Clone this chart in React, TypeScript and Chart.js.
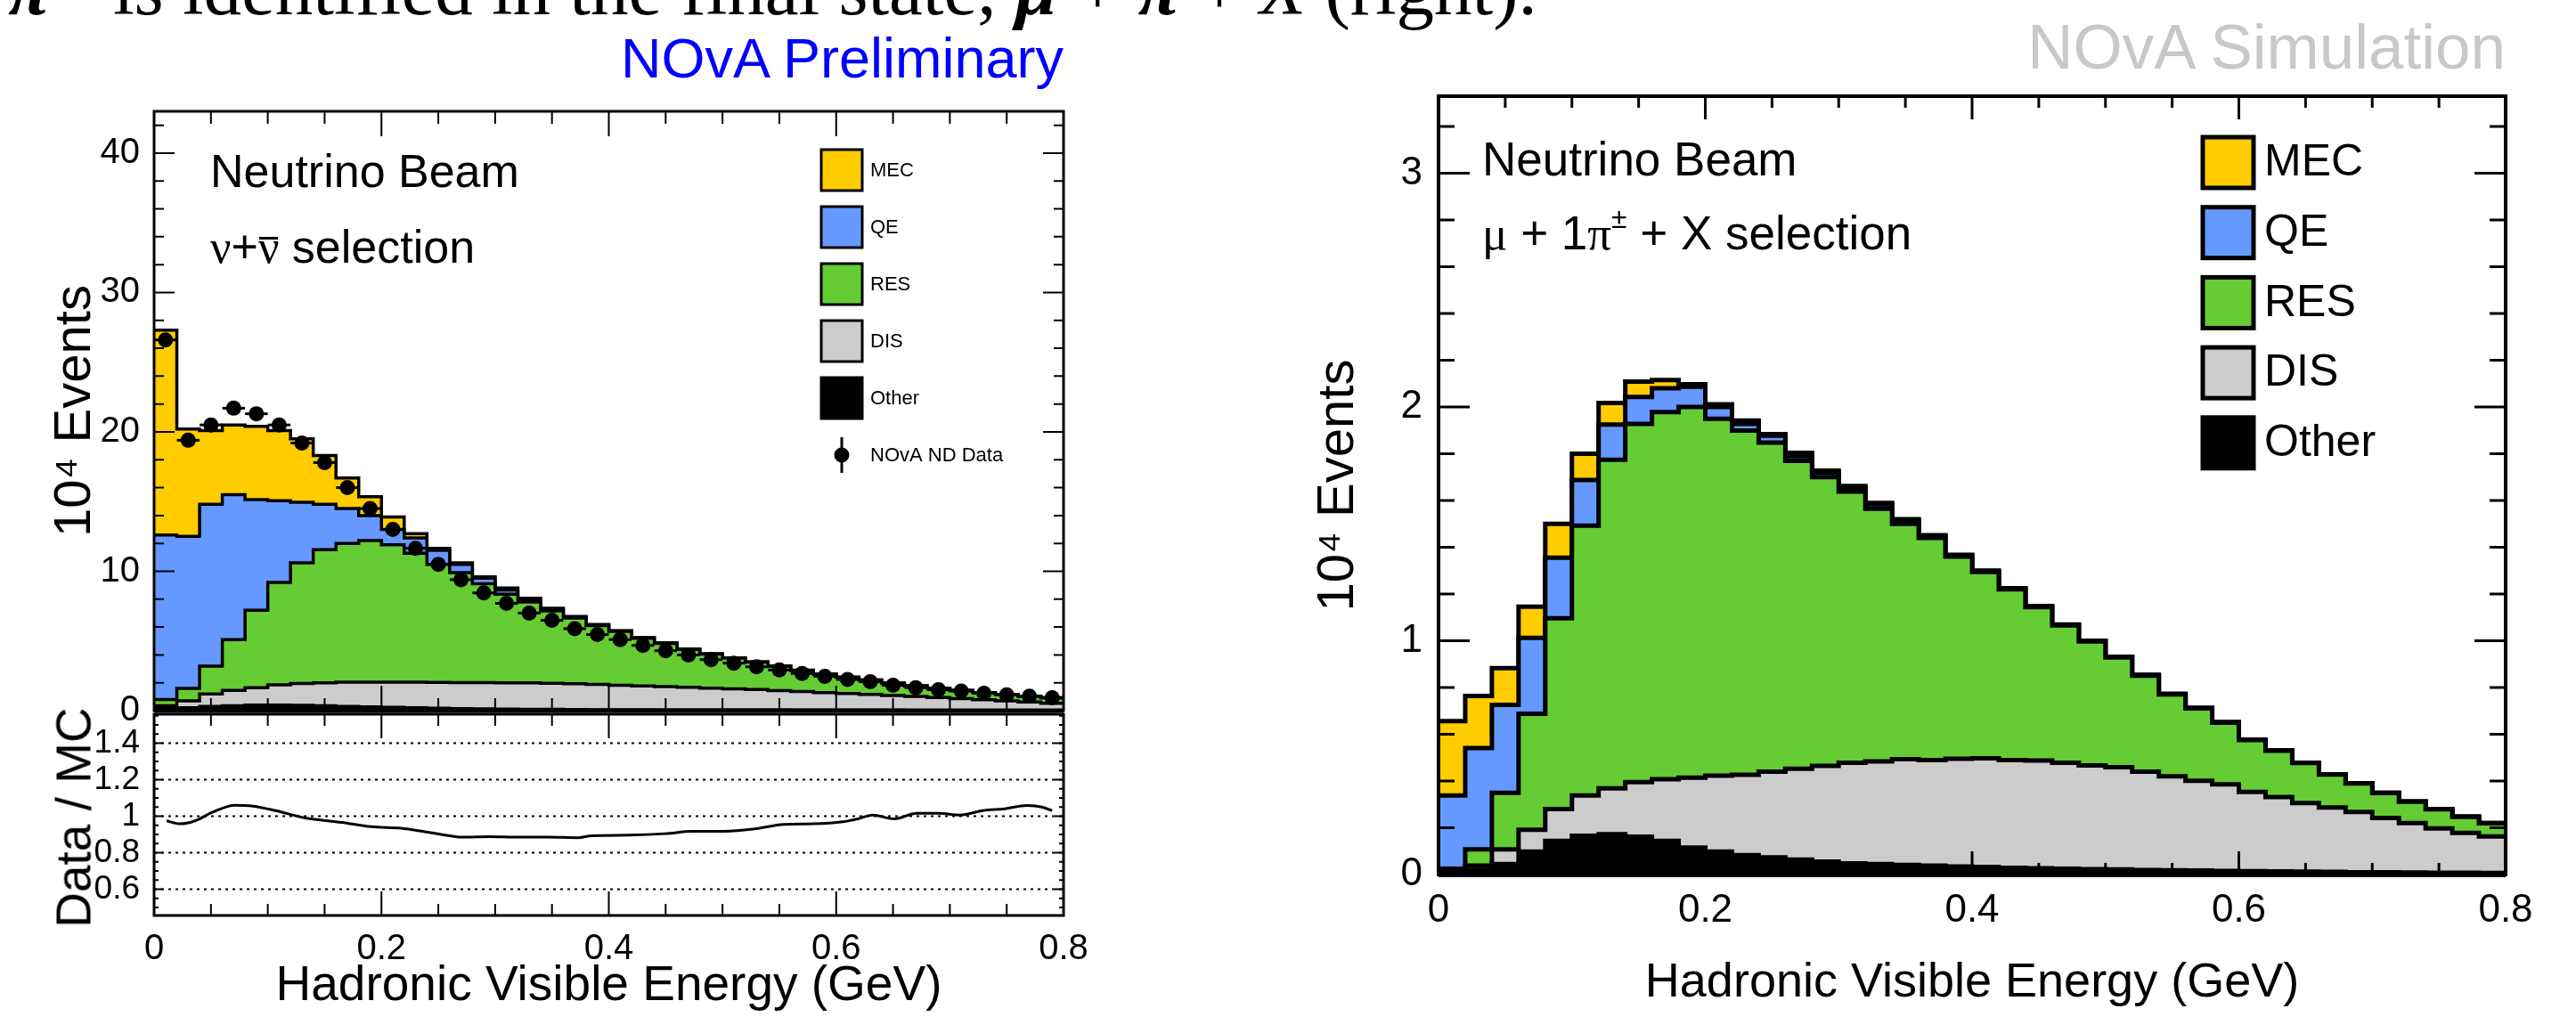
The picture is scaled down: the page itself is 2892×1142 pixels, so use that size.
import React, { useEffect, useRef } from "react";
import { Chart, registerables } from "chart.js";

Chart.register(...registerables);

const SANS = "'Liberation Sans', Arial, Helvetica, sans-serif";
const SERIF = "'Liberation Serif', 'Times New Roman', serif";
Chart.defaults.font.family = SANS;
Chart.defaults.color = "#000";

// ---------- shared binning (low edges of 0.02 GeV bins) ----------
const binLowEdges = [0, 0.02, 0.04, 0.06, 0.08, 0.1, 0.12, 0.14, 0.16, 0.18, 0.2, 0.22, 0.24, 0.26, 0.28, 0.3, 0.32, 0.34, 0.36, 0.38, 0.4, 0.42, 0.44, 0.46, 0.48, 0.5, 0.52, 0.54, 0.56, 0.58, 0.6, 0.62, 0.64, 0.66, 0.68, 0.7, 0.72, 0.74, 0.76, 0.78];
const binUpperEdge = 0.8;
const binWidth = 0.02;

const componentLabels = ["MEC", "QE", "RES", "DIS", "Other"];
const componentColors = { MEC: "#ffcc00", QE: "#6699ff", RES: "#66cc33", DIS: "#cccccc", Other: "#000000" };
const dataLabel = "NOvA ND Data";

// ---------- left panel: nu + nubar selection (10^4 events) ----------
const leftOther = [0.15, 0.2, 0.3, 0.35, 0.4, 0.4, 0.38, 0.35, 0.3, 0.27, 0.24, 0.2, 0.17, 0.15, 0.13, 0.11, 0.1, 0.09, 0.08, 0.07, 0.06, 0.06, 0.05, 0.05, 0.05, 0.04, 0.04, 0.04, 0.03, 0.03, 0.03, 0.03, 0.03, 0.02, 0.02, 0.02, 0.02, 0.02, 0.02, 0.02];
const leftDIS = [0.2, 0.5, 0.9, 1.1, 1.25, 1.45, 1.57, 1.65, 1.75, 1.78, 1.81, 1.85, 1.86, 1.87, 1.89, 1.89, 1.9, 1.88, 1.85, 1.81, 1.76, 1.71, 1.67, 1.62, 1.57, 1.53, 1.47, 1.4, 1.34, 1.27, 1.2, 1.13, 1.06, 1.0, 0.93, 0.85, 0.77, 0.69, 0.6, 0.51];
const leftRES = [0.45, 0.9, 2.0, 3.65, 5.55, 7.35, 8.65, 9.55, 9.95, 10.15, 9.85, 9.25, 8.47, 7.88, 7.08, 6.36, 5.8, 5.18, 4.72, 4.22, 3.86, 3.42, 3.11, 2.73, 2.44, 2.2, 1.97, 1.74, 1.51, 1.31, 1.16, 1.03, 0.88, 0.75, 0.64, 0.57, 0.5, 0.44, 0.4, 0.38];
const leftQE = [11.8, 10.9, 11.6, 10.4, 7.95, 5.86, 4.35, 3.25, 2.5, 1.8, 1.1, 1.1, 1.0, 0.6, 0.4, 0.29, 0.15, 0.1, 0.07, 0.05, 0.04, 0.03, 0.02, 0.02, 0.01, 0.01, 0.01, 0.01, 0.01, 0.01, 0.01, 0.01, 0.01, 0.01, 0.01, 0.01, 0.01, 0.01, 0.01, 0.01];
const leftMEC = [14.7, 7.7, 5.3, 5.0, 5.25, 5.04, 4.55, 3.5, 2.2, 1.35, 0.9, 0.3, 0.15, 0.1, 0.1, 0.15, 0.12, 0.09, 0.04, 0.03, 0.02, 0.02, 0.01, 0.01, 0.01, 0.01, 0.01, 0.01, 0.01, 0, 0, 0, 0, 0, 0, 0, 0, 0, 0, 0];
const leftData = [26.6, 19.4, 20.5, 21.7, 21.3, 20.5, 19.2, 17.8, 16.0, 14.5, 13.0, 11.65, 10.5, 9.4, 8.45, 7.7, 7.0, 6.48, 5.88, 5.46, 5.1, 4.68, 4.3, 4.0, 3.66, 3.41, 3.15, 2.92, 2.67, 2.46, 2.24, 2.07, 1.82, 1.65, 1.5, 1.4, 1.25, 1.14, 1.04, 0.93];

// Data / MC ratio curve
const ratioX = [0.011, 0.023, 0.036, 0.052, 0.071, 0.087, 0.107, 0.133, 0.165, 0.191, 0.217, 0.243, 0.272, 0.295, 0.321, 0.347, 0.373, 0.385, 0.418, 0.45, 0.473, 0.502, 0.528, 0.554, 0.58, 0.606, 0.619, 0.632, 0.651, 0.671, 0.69, 0.709, 0.729, 0.748, 0.768, 0.781, 0.79];
const ratioY = [0.974, 0.958, 0.974, 1.023, 1.06, 1.055, 1.03, 0.99, 0.966, 0.942, 0.934, 0.91, 0.885, 0.888, 0.885, 0.885, 0.882, 0.893, 0.896, 0.904, 0.917, 0.917, 0.93, 0.955, 0.958, 0.969, 0.985, 1.006, 0.985, 1.015, 1.015, 1.006, 1.03, 1.04, 1.058, 1.05, 1.03];

// ---------- right panel: mu + 1pi + X selection (10^4 events) ----------
const rightOther = [0.02, 0.02, 0.045, 0.098, 0.144, 0.166, 0.172, 0.162, 0.144, 0.115, 0.098, 0.083, 0.073, 0.064, 0.055, 0.048, 0.045, 0.041, 0.038, 0.034, 0.032, 0.029, 0.027, 0.025, 0.023, 0.022, 0.019, 0.018, 0.017, 0.015, 0.014, 0.013, 0.012, 0.011, 0.01, 0.01, 0.009, 0.008, 0.008, 0.007];
const rightDIS = [0.002, 0.018, 0.063, 0.093, 0.136, 0.172, 0.197, 0.233, 0.264, 0.299, 0.325, 0.344, 0.367, 0.388, 0.41, 0.43, 0.439, 0.452, 0.452, 0.461, 0.465, 0.461, 0.461, 0.453, 0.444, 0.437, 0.421, 0.402, 0.384, 0.371, 0.339, 0.318, 0.294, 0.276, 0.258, 0.232, 0.211, 0.189, 0.17, 0.156];
const rightRES = [0.003, 0.07, 0.242, 0.497, 0.816, 1.155, 1.406, 1.533, 1.57, 1.586, 1.527, 1.472, 1.408, 1.318, 1.235, 1.16, 1.081, 1.007, 0.95, 0.865, 0.797, 0.73, 0.656, 0.588, 0.53, 0.47, 0.411, 0.351, 0.31, 0.264, 0.222, 0.199, 0.171, 0.141, 0.122, 0.107, 0.091, 0.082, 0.069, 0.056];
const rightQE = [0.313, 0.433, 0.376, 0.325, 0.259, 0.195, 0.15, 0.115, 0.102, 0.087, 0.05, 0.029, 0.029, 0.02, 0.02, 0.017, 0.019, 0.015, 0.008, 0.005, 0.004, 0.003, 0.003, 0.003, 0.002, 0.002, 0.002, 0.001, 0.001, 0.001, 0.001, 0.001, 0.001, 0.001, 0.001, 0.001, 0.001, 0.001, 0.001, 0.001];
const rightMEC = [0.318, 0.223, 0.157, 0.133, 0.145, 0.112, 0.092, 0.066, 0.036, 0.01, 0.012, 0.014, 0.007, 0.014, 0.008, 0.007, 0.006, 0.005, 0.004, 0.003, 0.002, 0.002, 0.002, 0.001, 0.001, 0.001, 0.001, 0.001, 0.001, 0.001, 0, 0, 0, 0, 0, 0, 0, 0, 0, 0];

// ---------- helpers ----------
const fmt = (v: any) => String(Math.round(Number(v) * 1000) / 1000);

function buildStack(comps: { label: string; values: number[] }[], lineWidth: number, firstOrder: number) {
  // comps given bottom -> top; like ROOT's THStack each cumulative histogram is filled from 0,
  // the top-most (largest) one is drawn first and lower ones are painted over it.
  const cum = binLowEdges.map(() => 0);
  return comps.map((c, k) => {
    c.values.forEach((v, i) => (cum[i] += v));
    const pts = binLowEdges.map((x, i) => ({ x, y: cum[i] }));
    pts.push({ x: binUpperEdge, y: cum[cum.length - 1] });
    return {
      type: "line",
      label: c.label,
      data: pts,
      stepped: true,
      fill: "origin",
      backgroundColor: (componentColors as any)[c.label],
      borderColor: "#000",
      borderWidth: lineWidth,
      borderJoinStyle: "miter",
      pointRadius: 0,
      order: firstOrder + k,
    };
  });
}

const rootFrame = {
  id: "rootFrame",
  beforeDatasetsDraw(chart: any, _a: any, o: any) {
    if (!o || !o.dotted) return;
    const { ctx, chartArea: a } = chart;
    const ys = chart.scales.y;
    ctx.save();
    ctx.setLineDash([3, 5]);
    ctx.lineWidth = 2;
    ctx.strokeStyle = "#000";
    ys.ticks.forEach((t: any) => {
      const p = ys.getPixelForValue(t.value);
      ctx.beginPath();
      ctx.moveTo(a.left, p);
      ctx.lineTo(a.right, p);
      ctx.stroke();
    });
    ctx.restore();
  },
  afterDatasetsDraw(chart: any, _a: any, o: any) {
    if (!o || !o.frameWidth) return;
    const { ctx, chartArea: a } = chart;
    const xs = chart.scales.x;
    const ys = chart.scales.y;
    const isMajor = (v: number, step: number) => Math.abs(v / step - Math.round(v / step)) < 1e-6;
    ctx.save();
    ctx.strokeStyle = "#000";
    ctx.lineWidth = o.tickWidth;
    ctx.beginPath();
    for (let k = 1; ; k++) {
      const v = xs.min + k * o.xMinor;
      if (v >= xs.max - 1e-9) break;
      const len = isMajor(v, o.xMajor) ? o.xMajorLen : o.xMinorLen;
      const p = xs.getPixelForValue(v);
      ctx.moveTo(p, a.bottom);
      ctx.lineTo(p, a.bottom - len);
      ctx.moveTo(p, a.top);
      ctx.lineTo(p, a.top + len);
    }
    const y0 = Math.ceil(ys.min / o.yMinor - 1e-9) * o.yMinor;
    for (let k = 0; ; k++) {
      const v = y0 + k * o.yMinor;
      if (v >= ys.max - 1e-9) break;
      if (v <= ys.min + 1e-9) continue;
      const len = isMajor(v, o.yMajor) ? o.yMajorLen : o.yMinorLen;
      const p = ys.getPixelForValue(v);
      ctx.moveTo(a.left, p);
      ctx.lineTo(a.left + len, p);
      ctx.moveTo(a.right, p);
      ctx.lineTo(a.right - len, p);
    }
    ctx.stroke();
    ctx.lineWidth = o.frameWidth;
    ctx.strokeRect(a.left, a.top, a.right - a.left, a.bottom - a.top);
    if (o.baseWidth) {
      ctx.lineWidth = o.baseWidth;
      ctx.beginPath();
      ctx.moveTo(a.left, a.bottom);
      ctx.lineTo(a.right, a.bottom);
      ctx.stroke();
    }
    ctx.restore();
  },
};

const rootLegend = {
  id: "rootLegend",
  afterDraw(chart: any, _a: any, o: any) {
    if (!o || !o.entries) return;
    const ctx = chart.ctx;
    ctx.save();
    ctx.font = `${o.fontSize}px ${SANS}`;
    ctx.textBaseline = "middle";
    const n = o.entries.length;
    for (let k = 0; k < n; k++) {
      const label = o.entries[k];
      const ds = chart.data.datasets.find((d: any) => d.label === label);
      if (!ds) continue;
      const y = o.top + k * o.step;
      ctx.fillStyle = ds.backgroundColor;
      ctx.fillRect(o.left, y, o.size, o.size);
      ctx.lineWidth = o.boxLine;
      ctx.strokeStyle = "#000";
      ctx.strokeRect(o.left, y, o.size, o.size);
      ctx.fillStyle = "#000";
      ctx.fillText(label, o.textX, y + o.size / 2 + 1);
    }
    if (o.dataEntry) {
      const ds = chart.data.datasets.find((d: any) => d.label === o.dataEntry);
      if (ds) {
        const cx = o.left + o.size / 2;
        const cy = o.top + n * o.step + o.size / 2;
        ctx.strokeStyle = "#000";
        ctx.lineWidth = 3;
        ctx.beginPath();
        ctx.moveTo(cx, cy - 20);
        ctx.lineTo(cx, cy + 20);
        ctx.stroke();
        ctx.fillStyle = "#000";
        ctx.beginPath();
        ctx.arc(cx, cy, ds.pointRadius, 0, Math.PI * 2);
        ctx.fill();
        ctx.fillText(ds.label, o.textX, cy + 1);
      }
    }
    ctx.restore();
  },
};

// ---------- chart configs ----------
function leftTopConfig() {
  const stack = buildStack(
    [
      { label: "Other", values: leftOther },
      { label: "DIS", values: leftDIS },
      { label: "RES", values: leftRES },
      { label: "QE", values: leftQE },
      { label: "MEC", values: leftMEC },
    ],
    3.5,
    2
  );
  const pts = binLowEdges.map((e, i) => ({ x: e + binWidth / 2, y: leftData[i] }));
  return {
    type: "line",
    data: {
      datasets: [
        { label: dataLabel, data: pts, showLine: false, pointRadius: 8.5, pointBackgroundColor: "#000", pointBorderColor: "#000", pointBorderWidth: 0, order: 0 },
        { label: "", data: pts, showLine: false, pointStyle: "line", pointRadius: 12.7, pointBorderColor: "#000", pointBorderWidth: 3, order: 1 },
        ...stack,
      ],
    },
    options: {
      responsive: false,
      animation: false,
      devicePixelRatio: 1,
      layout: { padding: { left: 0, top: 125, right: 66, bottom: 28 } },
      plugins: {
        legend: { display: false },
        tooltip: { enabled: false },
        rootFrame: { frameWidth: 3, baseWidth: 5, tickWidth: 2, xMajor: 0.2, xMinor: 0.05, xMajorLen: 28, xMinorLen: 14, yMajor: 10, yMinor: 2, yMajorLen: 23, yMinorLen: 11 },
        rootLegend: { entries: componentLabels, dataEntry: dataLabel, left: 922, top: 168, size: 46, step: 64, boxLine: 3, textX: 977, fontSize: 22 },
      },
      scales: {
        x: { type: "linear", min: 0, max: binUpperEdge, display: false },
        y: {
          type: "linear",
          min: 0,
          max: 43,
          afterFit: (s: any) => { s.width = 173; },
          grid: { display: false },
          border: { display: false },
          ticks: { stepSize: 10, includeBounds: false, font: { size: 40 }, padding: 8, color: "#000", callback: fmt },
          title: { display: true, text: "10⁴ Events", font: { size: 58 }, color: "#000", padding: { top: 50, bottom: 0 } },
        },
      },
    },
    plugins: [rootFrame, rootLegend],
  };
}

function ratioConfig() {
  return {
    type: "line",
    data: {
      datasets: [
        {
          label: "Data / MC",
          data: ratioX.map((x, i) => ({ x, y: ratioY[i] })),
          borderColor: "#000",
          borderWidth: 3,
          pointRadius: 0,
          fill: false,
          cubicInterpolationMode: "monotone",
        },
      ],
    },
    options: {
      responsive: false,
      animation: false,
      devicePixelRatio: 1,
      layout: { padding: { left: 0, top: 32, right: 66, bottom: 0 } },
      plugins: {
        legend: { display: false },
        tooltip: { enabled: false },
        rootFrame: { dotted: true, frameWidth: 3, tickWidth: 2, xMajor: 0.2, xMinor: 0.05, xMajorLen: 27, xMinorLen: 13, yMajor: 0.2, yMinor: 0.05, yMajorLen: 10, yMinorLen: 5 },
      },
      scales: {
        x: {
          type: "linear",
          min: 0,
          max: binUpperEdge,
          afterFit: (s: any) => { s.height = 114; },
          grid: { display: false },
          border: { display: false },
          ticks: { stepSize: 0.2, font: { size: 40 }, padding: 6, color: "#000", maxRotation: 0, autoSkip: false, callback: fmt },
          title: { display: true, text: "Hadronic Visible Energy (GeV)", font: { size: 55 }, color: "#000", padding: { top: 0, bottom: 1 } },
        },
        y: {
          type: "linear",
          min: 0.456,
          max: 1.558,
          afterFit: (s: any) => { s.width = 173; },
          grid: { display: false },
          border: { display: false },
          ticks: { stepSize: 0.2, includeBounds: false, font: { size: 37 }, padding: 8, color: "#000", callback: fmt },
        },
      },
    },
    plugins: [rootFrame],
  };
}

function rightConfig() {
  const stack = buildStack(
    [
      { label: "Other", values: rightOther },
      { label: "DIS", values: rightDIS },
      { label: "RES", values: rightRES },
      { label: "QE", values: rightQE },
      { label: "MEC", values: rightMEC },
    ],
    5,
    0
  );
  return {
    type: "line",
    data: { datasets: stack },
    options: {
      responsive: false,
      animation: false,
      devicePixelRatio: 1,
      layout: { padding: { left: 0, top: 108, right: 79, bottom: 0 } },
      plugins: {
        legend: { display: false },
        tooltip: { enabled: false },
        rootFrame: { frameWidth: 4, baseWidth: 6, tickWidth: 3, xMajor: 0.2, xMinor: 0.05, xMajorLen: 26, xMinorLen: 13, yMajor: 1, yMinor: 0.2, yMajorLen: 35, yMinorLen: 18 },
        rootLegend: { entries: componentLabels, left: 1023, top: 154, size: 57, step: 78.7, boxLine: 5, textX: 1092, fontSize: 50 },
      },
      scales: {
        x: {
          type: "linear",
          min: 0,
          max: binUpperEdge,
          afterFit: (s: any) => { s.height = 160; },
          grid: { display: false },
          border: { display: false },
          ticks: { stepSize: 0.2, font: { size: 44 }, padding: 6, color: "#000", maxRotation: 0, autoSkip: false, callback: fmt },
          title: { display: true, text: "Hadronic Visible Energy (GeV)", font: { size: 54 }, color: "#000", padding: { top: 0, bottom: 5 } },
        },
        y: {
          type: "linear",
          min: 0,
          max: 3.33,
          afterFit: (s: any) => { s.width = 165; },
          grid: { display: false },
          border: { display: false },
          ticks: { stepSize: 1, includeBounds: false, font: { size: 44 }, padding: 10, color: "#000", callback: fmt },
          title: { display: true, text: "10⁴ Events", font: { size: 58 }, color: "#000", padding: { top: 18, bottom: 0 } },
        },
      },
    },
    plugins: [rootFrame, rootLegend],
  };
}

// ---------- components ----------
function ChartCanvas({ x, y, w, h, make }: { x: number; y: number; w: number; h: number; make: () => any }) {
  const ref = useRef<HTMLCanvasElement | null>(null);
  useEffect(() => {
    if (!ref.current) return;
    const chart = new Chart(ref.current, make() as any);
    return () => chart.destroy();
  }, []);
  return <canvas ref={ref} width={w} height={h} style={{ position: "absolute", left: x, top: y, width: w, height: h }} />;
}

function Txt({ x, y, size, color = "#000", family = SANS, align = "left", children, style }: any) {
  const asc = family === SERIF ? 0.8375 : 0.8465;
  return (
    <div
      style={{
        position: "absolute",
        left: x,
        top: y - asc * size,
        fontSize: size,
        lineHeight: 1,
        fontFamily: family,
        color,
        whiteSpace: "nowrap",
        transform: align === "right" ? "translateX(-100%)" : undefined,
        ...style,
      }}
    >
      {children}
    </div>
  );
}

const sup = { fontSize: "0.6em", position: "relative" as const, top: "-0.75em" };
const mathIt = { fontFamily: SERIF, fontStyle: "italic" as const, fontWeight: 700 };

function NuBar() {
  return (
    <span style={{ position: "relative", display: "inline-block", fontFamily: SERIF }}>
      ν
      <span style={{ position: "absolute", left: "6%", right: "6%", top: "0.27em", borderTop: "3px solid #000" }} />
    </span>
  );
}

export default function App() {
  return (
    <div style={{ position: "fixed", left: 0, top: 0, width: 2892, height: 1142, background: "#fff", overflow: "hidden" }}>
      <ChartCanvas x={0} y={0} w={1260} h={830} make={leftTopConfig} />
      <ChartCanvas x={0} y={770} w={1260} h={372} make={ratioConfig} />
      <ChartCanvas x={1450} y={0} w={1442} h={1142} make={rightConfig} />

      {/* clipped caption line from the surrounding document */}
      <Txt x={9} y={16} size={85} family={SERIF}>
        <span style={mathIt}>π</span>
        <span style={sup}>±</span>
      </Txt>
      <Txt x={127} y={16} size={85} family={SERIF}>
        is identified in the final state, <span style={mathIt}>μ</span> + <span style={mathIt}>π</span> + <span style={{ fontStyle: "italic" }}>X</span> (right).
      </Txt>

      {/* ratio-panel axis title */}
      <div
        style={{
          position: "absolute",
          left: 83,
          top: 918,
          transform: "translate(-50%, -50%) rotate(-90deg)",
          fontFamily: SANS,
          fontSize: 55,
          lineHeight: 1,
          whiteSpace: "nowrap",
          color: "#000",
        }}
      >
        Data / MC
      </div>

      {/* left panel annotations */}
      <Txt x={1194} y={87} size={63} color="#0000ff" align="right">NOvA Preliminary</Txt>
      <Txt x={236} y={210} size={52}>Neutrino Beam</Txt>
      <Txt x={236} y={295} size={52}>
        <span style={{ fontFamily: SERIF }}>ν</span>+<NuBar /> selection
      </Txt>

      {/* right panel annotations */}
      <Txt x={2813} y={77} size={71} color="#c8c8c8" align="right">NOvA Simulation</Txt>
      <Txt x={1664} y={197} size={53}>Neutrino Beam</Txt>
      <Txt x={1664} y={280} size={53}>
        <span style={{ fontFamily: SERIF }}>μ</span> + 1<span style={{ fontFamily: SERIF }}>π</span>
        <span style={sup}>±</span> + X selection
      </Txt>
    </div>
  );
}
